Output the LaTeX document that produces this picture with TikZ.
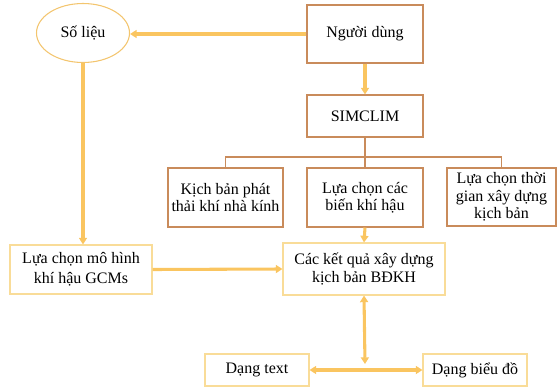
\documentclass[tikz,border=0pt]{standalone}
\usepackage{fontspec}
\setmainfont{Liberation Serif}
\usetikzlibrary{arrows.meta,shapes.geometric}
\definecolor{arr}{HTML}{FAC560}
\definecolor{brn}{HTML}{C98B5B}
\definecolor{lyel}{HTML}{F9DC98}
\definecolor{ell}{HTML}{F3C56E}
\tikzset{
  px/.style={x=0.75pt,y=-0.75pt},
  bbox/.style={draw=brn,line width=0.8pt,align=center,inner sep=0pt,font=\fontsize{12}{13}\selectfont},
  ybox/.style={draw=lyel,line width=0.8pt,align=center,inner sep=0pt,font=\fontsize{12}{14}\selectfont},
  oarrow/.style={draw=arr,line width=2.3pt,-{Triangle[length=5pt,width=6pt]}},
  darrow/.style={draw=arr,line width=2.3pt,{Triangle[length=5pt,width=6pt]}-{Triangle[length=5pt,width=6pt]}},
  thin/.style={draw=brn,line width=0.8pt}
}
\begin{document}
\begin{tikzpicture}[px]
\useasboundingbox (0,0) rectangle (557,389);
\node[ellipse,draw=ell,line width=0.8pt,minimum width=93*0.75pt,minimum height=59*0.75pt,inner sep=0pt,font=\fontsize{12}{14}\selectfont] (solieu) at (83,33) {Số liệu};
\node[bbox,minimum width=116*0.75pt,minimum height=58*0.75pt] (nguoidung) at (365,34) {Người dùng};
\node[bbox,minimum width=116*0.75pt,minimum height=42*0.75pt] (simclim) at (365,116) {SIMCLIM};
\node[bbox,minimum width=115*0.75pt,minimum height=59*0.75pt] (kb) at (225.5,197.5) {Kịch bản phát\\thải khí nhà kính};
\node[bbox,minimum width=116*0.75pt,minimum height=59*0.75pt] (bien) at (365,197.5) {Lựa chọn các\\biến khí hậu};
\node[bbox,minimum width=109*0.75pt,minimum height=58*0.75pt] (thoigian) at (501.5,197) {Lựa chọn thời\\gian xây dựng\\kịch bản};
\node[ybox,minimum width=142*0.75pt,minimum height=49*0.75pt,font=\fontsize{12}{15}\selectfont] (mohinh) at (81,269.5) {Lựa chọn mô hình\\khí hậu GCMs};
\node[ybox,minimum width=162*0.75pt,minimum height=52*0.75pt,font=\fontsize{12}{13.5}\selectfont] (ketqua) at (364,269) {Các kết quả xây dựng\\kịch bản BĐKH};
\node[ybox,minimum width=104*0.75pt,minimum height=32*0.75pt] (text) at (257,370) {Dạng text};
\node[ybox,minimum width=104*0.75pt,minimum height=32*0.75pt] (bieudo) at (475,370) {Dạng biểu đồ};
\coordinate (br) at (365,157);
\coordinate (vend) at (365,364);
\draw[oarrow] (nguoidung.west) -- (solieu.east |- nguoidung.west);
\draw[oarrow] (nguoidung.south) -- (simclim.north);
\draw[oarrow] (solieu.south) -- (solieu.south |- mohinh.north);
\draw[thin] (simclim.south) -- (bien.north);
\draw[thin] (kb.north) |- (br) -| (thoigian.north);
\draw[oarrow] (bien.south) -- (ketqua.north);
\draw[oarrow] (mohinh.east) -- (ketqua.west);
\draw[darrow] (ketqua.south) -- (vend);
\draw[darrow] (text.east) -- (bieudo.west);
\end{tikzpicture}
\end{document}
